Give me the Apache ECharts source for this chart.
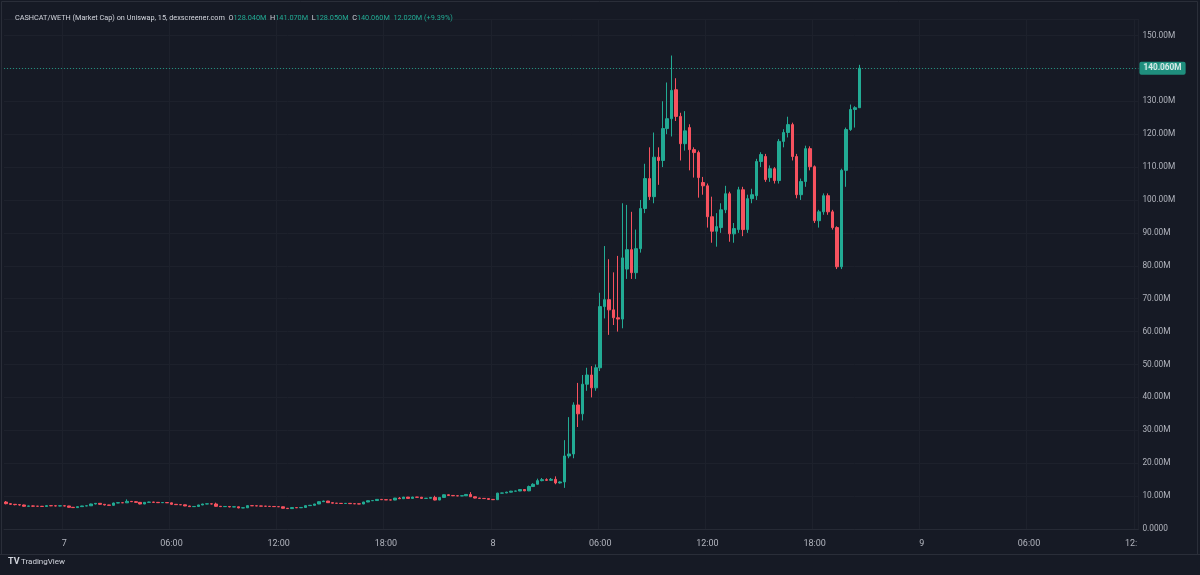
<!DOCTYPE html>
<html>
<head>
<meta charset="utf-8">
<script src="https://cdn.jsdelivr.net/npm/echarts@6/dist/echarts.min.js"></script>
<style>
html,body{margin:0;padding:0;background:#161a25;}
#c{width:1200px;height:575px;}
</style>
</head>
<body>
<div id="c"></div>
<script>
// Market cap in millions; every row is [open, close, low, high] for a 15-minute candle
const day6Tail = [
  [8.2,7.7,7.5,8.5],[7.7,7.5,7.3,7.8],[7.5,7.4,7.2,7.6],[7.4,7.3,7.1,7.5],[7.3,6.9,6.8,7.4],
  [6.9,7.0,6.8,7.1],[7.0,6.95,6.8,7.1],[6.95,6.9,6.8,7.0],[6.9,6.85,6.7,7.0],[6.85,7.1,6.8,7.2],
  [7.1,7.05,6.95,7.15],[7.05,7.0,6.9,7.1],[7.0,7.05,6.9,7.1]
];
const day7 = [
  [7.05,7.0,6.9,7.1],[7.0,6.6,6.5,7.05],[6.6,6.5,6.4,6.7],[6.5,6.8,6.4,6.85],[6.8,7.0,6.75,7.05],
  [7.0,7.05,6.95,7.1],[7.05,7.6,7.0,7.7],[7.6,7.8,7.5,7.9],[7.8,7.5,7.4,7.85],[7.5,7.3,7.2,7.55],
  [7.3,7.2,7.1,7.35],[7.2,7.9,7.1,8.0],[7.9,8.0,7.85,8.05],[8.0,7.95,7.9,8.05],[7.95,8.4,7.9,9.0],
  [8.4,8.3,8.2,8.45],[8.3,8.1,8.0,8.5],[8.1,7.6,7.5,8.15],[7.6,8.1,7.55,8.15],[8.1,8.2,8.05,8.3],
  [8.2,8.1,8.0,8.25],[8.1,8.0,7.9,8.15],[8.0,8.05,7.95,8.1],[8.05,7.95,7.9,8.1],[7.95,7.5,7.4,8.0],
  [7.5,7.4,7.3,7.6],[7.4,7.35,7.3,7.45],[7.35,7.0,6.95,7.4],[7.0,6.8,6.7,7.05],[6.8,6.85,6.75,6.9],
  [6.85,7.3,6.8,7.35],[7.3,7.6,7.25,7.65],[7.6,7.65,7.55,7.7],[7.65,7.6,7.5,7.7],[7.6,6.9,6.8,8.0],
  [6.9,6.8,6.7,7.0],[6.8,6.85,6.75,6.9],[6.85,6.7,6.6,6.9],[6.7,6.75,6.65,6.8],[6.75,6.4,6.3,6.8],
  [6.4,6.45,6.35,6.5],[6.45,7.1,6.4,7.15],[7.1,7.05,7.0,7.15],[7.05,7.0,6.95,7.1],[7.0,6.95,6.9,7.05],
  [6.95,6.9,6.85,7.0],[6.9,6.85,6.8,6.95],[6.85,6.8,6.75,6.9],[6.8,6.75,6.7,6.85],[6.75,6.3,6.2,6.8],
  [6.3,6.2,6.15,6.35],[6.2,6.5,6.15,6.55],[6.5,6.45,6.4,6.55],[6.45,6.55,6.4,6.6],[6.55,7.1,6.5,7.15],
  [7.1,7.2,7.05,7.3],[7.2,7.6,7.15,7.65],[7.6,8.3,7.55,8.4],[8.3,8.5,8.2,8.6],[8.5,8.0,7.9,8.55],
  [8.0,7.85,7.8,8.05],[7.85,7.8,7.75,7.9],[7.8,7.75,7.7,7.85],[7.75,7.8,7.7,7.85],[7.8,7.7,7.65,7.85],
  [7.7,7.65,7.6,7.75],[7.65,7.6,7.55,7.7],[7.6,8.2,7.55,8.25],[8.2,8.6,8.15,8.65],[8.6,8.65,8.55,8.7],
  [8.65,9.0,8.6,9.05],[9.0,8.9,8.85,9.05],[8.9,8.85,8.8,8.95],[8.85,8.8,8.75,8.9],[8.8,9.4,8.75,9.45],
  [9.4,9.2,9.1,9.7],[9.2,9.7,9.15,9.75],[9.7,9.3,9.25,9.75],[9.3,9.7,9.25,9.8],[9.7,9.65,9.6,9.75],
  [9.65,9.3,9.2,9.75],[9.3,9.35,9.25,9.4],[9.35,9.6,9.3,9.65],[9.6,8.8,8.7,10.1],[8.8,9.6,8.75,9.65],
  [9.6,10.4,9.55,10.5],[10.4,10.2,10.1,10.5],[10.2,10.1,10.0,10.25],[10.1,10.05,10.0,10.15],[10.05,10.1,10.0,10.15],
  [10.1,10.5,10.05,10.6],[10.5,9.8,9.75,11.2],[9.8,9.4,9.3,9.85],[9.4,9.3,9.2,9.45],[9.3,9.25,9.2,9.35],
  [9.25,9.0,8.9,9.3]
];
const day8 = [
  [9.0,8.9,8.8,9.1],[8.9,10.9,8.85,11.0],[10.9,10.95,10.85,11.0],[10.95,11.2,10.9,11.3],[11.2,11.5,11.1,11.6],
  [11.5,11.55,11.45,11.6],[11.55,12.0,11.5,12.1],[12.0,11.6,11.5,12.1],[11.6,12.9,11.5,13.2],[12.9,13.6,12.8,13.9],
  [13.6,14.7,13.5,15.3],[14.7,15.0,14.5,15.5],[15.0,14.8,14.6,15.4],[14.8,15.1,14.6,15.5],[15.1,14.0,13.6,16.0],
  [14.0,14.3,13.8,14.5],[14.3,22.2,12.5,27.0],[22.2,22.8,21.5,34.0],[22.8,37.7,21.5,38.5],[37.7,35.0,31.0,44.4],
  [35.0,44.0,33.0,46.8],[44.0,46.8,42.0,49.0],[46.8,42.9,40.0,49.5],[42.9,49.0,42.0,50.0],[49.0,67.6,48.0,71.8],
  [67.6,69.7,64.0,86.0],[69.7,66.6,59.0,82.0],[66.6,64.2,62.0,78.0],[64.2,63.8,60.0,83.0],[63.8,82.4,61.0,99.0],
  [79.0,84.9,76.0,98.5],[84.9,77.9,76.0,96.4],[77.9,85.2,76.0,91.0],[85.2,97.4,84.0,100.0],[97.4,106.5,96.0,111.0],
  [106.5,101.0,100.0,116.0],[101.0,113.0,99.0,120.5],[113.0,112.0,104.6,116.0],[112.0,121.7,110.0,130.0],[121.7,124.7,120.0,135.7],
  [124.7,133.3,119.3,143.9],[133.5,125.4,124.0,137.0],[125.4,117.1,112.0,126.5],[117.1,121.0,115.0,127.0],[122.0,115.3,109.0,123.0],
  [115.3,114.4,106.8,116.0],[114.4,106.8,100.7,115.0],[105.3,104.3,101.6,107.0],[104.3,94.9,91.6,105.0],[94.9,90.5,87.0,101.0],
  [90.5,91.9,85.8,96.0],[91.6,97.0,90.0,99.0],[97.0,101.9,96.0,104.3],[101.9,89.7,87.3,102.5],[89.7,91.3,87.0,93.0],
  [91.0,103.1,90.0,104.0],[103.1,91.0,89.0,104.0],[91.0,100.4,90.0,101.6],[100.4,101.6,99.0,103.4],[101.3,111.7,100.0,112.5],
  [111.7,113.8,110.0,114.5],[113.2,106.2,105.5,114.0],[106.8,109.5,105.5,110.5],[109.5,105.9,105.0,110.0],[105.9,117.8,105.0,118.5],
  [117.8,120.5,116.0,121.5],[120.5,122.9,119.0,125.3],[122.9,113.2,112.0,123.5],[113.2,101.6,100.5,114.0],[101.6,105.6,100.0,106.5],
  [105.6,115.6,104.0,116.5],[115.6,110.1,109.0,116.3],[110.1,93.7,93.0,110.5],[93.7,96.4,91.6,97.0],[96.4,101.3,95.5,102.0],
  [101.3,96.4,95.5,102.0],[96.4,91.6,91.0,97.0],[91.6,79.7,79.0,92.0],[79.7,109.0,79.0,109.5],[109.0,121.4,104.0,122.0],
  [121.4,127.5,121.0,129.0],[127.5,128.04,122.0,128.5],[128.04,140.06,128.05,141.07]
];

// time slots: first candle 6th 20:45, 15-minute step, axis extends into empty future slots
const firstDay = 6, firstMinuteOfDay = 20 * 60 + 45, stepMinutes = 15, slotCount = 254;
const pairName = 'CASHCAT/WETH (Market Cap) on Uniswap, 15, dexscreener.com';
const yTickStep = 10, yMin = 0, yMax = 155;

const UP = '#22ab94', DOWN = '#f7525f';
const candles = [...day6Tail, ...day7, ...day8];

const pad = n => (n < 10 ? '0' : '') + n;
const categories = [];
for (let k = 0; k < slotCount; k++) {
  const t = firstMinuteOfDay + k * stepMinutes;
  const d = firstDay + Math.floor(t / 1440);
  const m = t % 1440;
  categories.push(d + ' ' + pad(Math.floor(m / 60)) + ':' + pad(m % 60));
}
const isMajor = v => { const hm = v.split(' ')[1]; const h = +hm.slice(0,2), mi = +hm.slice(3); return mi === 0 && h % 6 === 0; };
const fmtLabel = v => { const [d, hm] = v.split(' '); return hm === '00:00' ? d : hm; };

const last = candles[candles.length - 1];
const prevClose = candles[candles.length - 2][1];
const chg = last[1] - prevClose;
const pct = chg / prevClose * 100;
const m3 = v => v.toFixed(3) + 'M';

const FONT = 'Roboto, "Noto Sans", sans-serif';
const TS = 7.3;
const chart = echarts.init(document.getElementById('c'), null, {renderer: 'canvas'});
chart.setOption({
  backgroundColor: '#161a25',
  animation: false,
  title: {
    left: 10, top: 10,
    text: '{n|' + pairName + '}  {k|O}{v|' + m3(last[0]) + '}  {k|H}{v|' + m3(last[3]) + '}  {k|L}{v|' + m3(last[2]) +
          '}  {k|C}{v|' + m3(last[1]) + '}  {v|' + m3(chg) + ' (' + (pct >= 0 ? '+' : '') + pct.toFixed(2) + '%)}',
    textStyle: {
      fontFamily: FONT, fontSize: TS, fontWeight: 'normal',
      rich: {
        n: {color: '#d1d4dc', fontSize: TS, fontFamily: FONT},
        k: {color: '#d1d4dc', fontSize: TS, fontFamily: FONT},
        v: {color: UP, fontSize: TS, fontFamily: FONT}
      }
    }
  },
  grid: {left: 4, top: 19, right: 61.6, bottom: 46, containLabel: false},
  xAxis: {
    type: 'category',
    data: categories,
    boundaryGap: true,
    offset: 4,
    axisLine: {show: true, lineStyle: {color: '#262a35'}},
    axisTick: {show: false},
    axisLabel: {
      color: '#b2b5be', fontSize: 9, fontFamily: FONT, margin: 6,
      interval: (i, v) => isMajor(v),
      formatter: v => fmtLabel(v)
    },
    splitLine: {show: true, interval: (i, v) => isMajor(v), lineStyle: {color: '#1d212c', width: 1}}
  },
  yAxis: {
    type: 'value',
    position: 'right',
    min: yMin, max: yMax, interval: yTickStep,
    axisLine: {show: false},
    axisTick: {show: false},
    axisLabel: {
      color: '#b2b5be', fontSize: 8.3, fontFamily: FONT, margin: 4, showMaxLabel: false,
      formatter: v => (v === 0 ? '0.0000' : (v % yTickStep === 0 ? v.toFixed(2) + 'M' : ''))
    },
    splitLine: {show: true, lineStyle: {color: '#1d212c', width: 1}}
  },
  series: [{
    type: 'candlestick',
    data: candles,
    barWidth: 3,
    itemStyle: {color: UP, color0: DOWN, borderColor: UP, borderColor0: DOWN, borderWidth: 1},
    markLine: {
      silent: true,
      symbol: ['none', 'none'],
      data: [{yAxis: last[1]}],
      lineStyle: {type: [1, 2], color: UP, width: 1, opacity: 0.8},
      label: {
        position: 'end', distance: 1,
        formatter: p => m3(p.value),
        backgroundColor: UP, color: '#ffffff', fontSize: 8.3, fontWeight: 'bold',
        fontFamily: FONT, padding: [3, 4, 2, 4], borderRadius: 2
      }
    }
  }],
  graphic: [
    {type: 'rect', silent: true, z: 100, shape: {x: 1137, y: 536, width: 60, height: 17}, style: {fill: '#161a25'}},
    {type: 'line', silent: true, z: 101, shape: {x1: 0, y1: 554.5, x2: 1200, y2: 554.5}, style: {stroke: '#2a2e39', lineWidth: 1}},
    {type: 'rect', silent: true, z: 101, shape: {x: 1.5, y: 1.5, width: 1196, height: 553}, style: {fill: 'none', stroke: '#2a2e39', lineWidth: 1}},
    {type: 'text', silent: true, z: 101, left: 8, top: 557, style: {text: 'TV', fill: '#d1d4dc', font: 'bold 9px ' + FONT}},
    {type: 'text', silent: true, z: 101, left: 21, top: 558, style: {text: 'TradingView', fill: '#d1d4dc', font: '8px ' + FONT}}
  ]
});
</script>
</body>
</html>
